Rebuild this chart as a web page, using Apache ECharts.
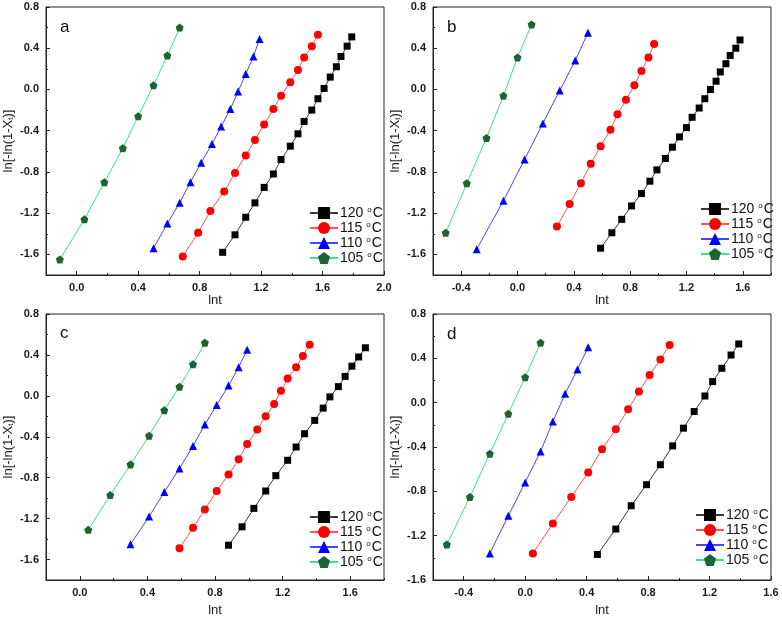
<!DOCTYPE html>
<html>
<head>
<meta charset="utf-8">
<script src="https://cdn.jsdelivr.net/npm/echarts@6/dist/echarts.min.js"></script>
<style>html,body{margin:0;padding:0;background:#fff;}#c{width:782px;height:620px;}</style>
</head>
<body>
<div id="c"></div>
<script>
// ---------- data ----------
const seriesNames = ['120', '115', '110', '105'];
const panelLetters = ['a', 'b', 'c', 'd'];

// panel a
const a120x = [0.95, 1.03, 1.10, 1.16, 1.22, 1.28, 1.33, 1.39, 1.44, 1.48, 1.53, 1.57, 1.61, 1.65, 1.69, 1.72, 1.76, 1.79];
const a120y = [-1.58, -1.41, -1.24, -1.10, -0.95, -0.82, -0.68, -0.55, -0.43, -0.31, -0.20, -0.09, 0.01, 0.12, 0.22, 0.32, 0.42, 0.51];
const a115x = [0.69, 0.79, 0.87, 0.96, 1.03, 1.10, 1.16, 1.22, 1.28, 1.33, 1.39, 1.44, 1.48, 1.53, 1.57];
const a115y = [-1.62, -1.39, -1.18, -0.99, -0.81, -0.64, -0.49, -0.34, -0.19, -0.06, 0.07, 0.19, 0.31, 0.42, 0.53];
const a110x = [0.50, 0.59, 0.67, 0.74, 0.81, 0.88, 0.94, 1.00, 1.05, 1.10, 1.15, 1.19];
const a110y = [-1.54, -1.30, -1.10, -0.90, -0.71, -0.53, -0.36, -0.19, -0.02, 0.15, 0.32, 0.49];
const a105x = [-0.11, 0.05, 0.18, 0.30, 0.40, 0.50, 0.59, 0.67];
const a105y = [-1.65, -1.26, -0.90, -0.57, -0.26, 0.04, 0.33, 0.60];

// panel b
const b120x = [0.59, 0.67, 0.74, 0.81, 0.88, 0.94, 0.99, 1.05, 1.10, 1.15, 1.20, 1.24, 1.29, 1.33, 1.37, 1.41, 1.44, 1.48, 1.51, 1.55, 1.58];
const b120y = [-1.54, -1.39, -1.26, -1.13, -1.01, -0.89, -0.78, -0.67, -0.56, -0.46, -0.37, -0.27, -0.18, -0.09, 0.00, 0.08, 0.17, 0.25, 0.33, 0.40, 0.48];
const b115x = [0.28, 0.37, 0.45, 0.52, 0.59, 0.66, 0.71, 0.77, 0.83, 0.88, 0.93, 0.97];
const b115y = [-1.33, -1.11, -0.91, -0.72, -0.55, -0.39, -0.24, -0.10, 0.04, 0.18, 0.31, 0.44];
const b110x = [-0.29, -0.10, 0.05, 0.18, 0.30, 0.41, 0.50];
const b110y = [-1.55, -1.08, -0.68, -0.33, -0.01, 0.28, 0.55];
const b105x = [-0.51, -0.36, -0.22, -0.10, 0.00, 0.10];
const b105y = [-1.39, -0.91, -0.47, -0.06, 0.31, 0.63];

// panel c
const c120x = [0.88, 0.96, 1.03, 1.10, 1.16, 1.23, 1.28, 1.33, 1.39, 1.44, 1.48, 1.53, 1.57, 1.61, 1.65, 1.69];
const c120y = [-1.46, -1.28, -1.10, -0.93, -0.78, -0.63, -0.50, -0.37, -0.24, -0.12, -0.01, 0.09, 0.19, 0.29, 0.38, 0.47];
const c115x = [0.59, 0.67, 0.74, 0.81, 0.88, 0.94, 0.99, 1.05, 1.10, 1.15, 1.19, 1.23, 1.28, 1.32, 1.36];
const c115y = [-1.49, -1.29, -1.11, -0.93, -0.77, -0.62, -0.47, -0.33, -0.20, -0.08, 0.05, 0.17, 0.28, 0.39, 0.50];
const c110x = [0.30, 0.41, 0.50, 0.59, 0.67, 0.74, 0.81, 0.88, 0.94, 0.99];
const c110y = [-1.45, -1.18, -0.94, -0.71, -0.49, -0.28, -0.09, 0.10, 0.28, 0.45];
const c105x = [0.05, 0.18, 0.30, 0.41, 0.50, 0.59, 0.67, 0.74];
const c105y = [-1.31, -0.97, -0.67, -0.39, -0.14, 0.09, 0.31, 0.52];

// panel d
const d120x = [0.47, 0.59, 0.69, 0.79, 0.88, 0.96, 1.03, 1.10, 1.17, 1.22, 1.28, 1.34, 1.39];
const d120y = [-1.37, -1.14, -0.93, -0.74, -0.56, -0.39, -0.23, -0.08, 0.06, 0.19, 0.31, 0.43, 0.53];
const d115x = [0.05, 0.18, 0.30, 0.41, 0.50, 0.59, 0.67, 0.74, 0.81, 0.88, 0.94];
const d115y = [-1.36, -1.09, -0.85, -0.63, -0.42, -0.24, -0.06, 0.10, 0.25, 0.39, 0.52];
const d110x = [-0.23, -0.11, 0.00, 0.10, 0.18, 0.26, 0.34, 0.41];
const d110y = [-1.36, -1.02, -0.72, -0.44, -0.17, 0.08, 0.30, 0.50];
const d105x = [-0.51, -0.36, -0.23, -0.11, 0.00, 0.10];
const d105y = [-1.28, -0.85, -0.46, -0.10, 0.23, 0.54];

// axis ranges and tick labels
const xMin = [-0.2, -0.6, -0.2, -0.6];
const xMax = [2.0, 1.8, 1.8, 1.6];
const yMin = [-1.8, -1.8, -1.8, -1.6];
const yMax = [0.8, 0.8, 0.8, 0.8];
const xMajor = [
  [0.0, 0.4, 0.8, 1.2, 1.6, 2.0],
  [-0.4, 0.0, 0.4, 0.8, 1.2, 1.6],
  [0.0, 0.4, 0.8, 1.2, 1.6],
  [-0.4, 0.0, 0.4, 0.8, 1.2, 1.6]
];
const xMinor = [
  [-0.2, 0.2, 0.6, 1.0, 1.4, 1.8],
  [-0.6, -0.2, 0.2, 0.6, 1.0, 1.4, 1.8],
  [-0.2, 0.2, 0.6, 1.0, 1.4, 1.8],
  [-0.6, -0.2, 0.2, 0.6, 1.0, 1.4]
];
const yMajorA = [-1.6, -1.2, -0.8, -0.4, 0.0, 0.4, 0.8];
const yMinorA = [-1.8, -1.4, -1.0, -0.6, -0.2, 0.2, 0.6];
const yMajorD = [-1.6, -1.2, -0.8, -0.4, 0.0, 0.4, 0.8];
const yMinorD = [-1.4, -1.0, -0.6, -0.2, 0.2, 0.6];

const panelData = [
  [[a120x, a120y], [a115x, a115y], [a110x, a110y], [a105x, a105y]],
  [[b120x, b120y], [b115x, b115y], [b110x, b110y], [b105x, b105y]],
  [[c120x, c120y], [c115x, c115y], [c110x, c110y], [c105x, c105y]],
  [[d120x, d120y], [d115x, d115y], [d110x, d110y], [d105x, d105y]]
];

// ---------- styling / layout ----------
const FONT = '"Liberation Sans", Arial, sans-serif';
const pentagon = 'path://M50,0 L97.55,34.55 L79.39,90.45 L20.61,90.45 L2.45,34.55 Z';
const symStyle = [
  { symbol: 'rect', size: 7, line: '#3a3a3a', fill: '#000000' },
  { symbol: 'circle', size: 8, line: '#ff5555', fill: '#ff0000' },
  { symbol: 'triangle', size: 8, line: '#4646ff', fill: '#0000ff' },
  { symbol: pentagon, size: 8, line: '#3fe08a', fill: '#1b6436' }
];
const grids = [
  { left: 46, top: 7, width: 338, height: 268 },
  { left: 433, top: 7, width: 338, height: 268 },
  { left: 46, top: 314, width: 338, height: 266 },
  { left: 433, top: 314, width: 338, height: 266 }
];
const xNameGap = [17, 17, 24, 24];
const legendPos = [
  { left: 304, top: 201 },
  { left: 695, top: 197 },
  { left: 304, top: 505 },
  { left: 690, top: 503 }
];
const letterPos = [
  { left: 55, top: 14 },
  { left: 442, top: 14 },
  { left: 55, top: 320 },
  { left: 442, top: 321 }
];

const fmt = v => (Math.abs(v) < 1e-9 ? 0 : v).toFixed(1);
const labelStyle = { fontSize: 11, color: '#1a1a1a', fontFamily: FONT, fontWeight: 'bold' };

const xAxes = [], yAxes = [], series = [], legends = [], titles = [];
for (let i = 0; i < 4; i++) {
  const yMaj = i === 3 ? yMajorD : yMajorA;
  const yMin2 = i === 3 ? yMinorD : yMinorA;
  xAxes.push({
    type: 'value', gridIndex: i, min: xMin[i], max: xMax[i], position: 'bottom',
    axisLine: { show: true, onZero: false, lineStyle: { color: '#222', width: 1 } },
    axisTick: { show: true, inside: true, length: 4, customValues: xMajor[i], lineStyle: { color: '#222' } },
    axisLabel: { show: true, customValues: xMajor[i], formatter: fmt, margin: 7, ...labelStyle },
    splitLine: { show: false },
    name: 'lnt', nameLocation: 'middle', nameGap: xNameGap[i],
    nameTextStyle: { fontSize: 13, color: '#1a1a1a', fontFamily: FONT }
  });
  xAxes.push({
    type: 'value', gridIndex: i, min: xMin[i], max: xMax[i], position: 'bottom',
    axisLine: { show: false, onZero: false },
    axisTick: { show: true, inside: true, length: 2, customValues: xMinor[i], lineStyle: { color: '#222' } },
    axisLabel: { show: false }, splitLine: { show: false }
  });
  yAxes.push({
    type: 'value', gridIndex: i, min: yMin[i], max: yMax[i], position: 'left',
    axisLine: { show: true, onZero: false, lineStyle: { color: '#222', width: 1 } },
    axisTick: { show: true, inside: true, length: 4, customValues: yMaj, lineStyle: { color: '#222' } },
    axisLabel: { show: true, customValues: yMaj, formatter: fmt, margin: 7, ...labelStyle },
    splitLine: { show: false },
    name: 'ln[-ln(1-X{sub|t})]', nameLocation: 'middle', nameGap: 31,
    nameTextStyle: {
      fontSize: 13, color: '#1a1a1a', fontFamily: FONT,
      rich: { sub: { fontSize: 8, fontFamily: FONT, color: '#1a1a1a', verticalAlign: 'bottom' } }
    }
  });
  yAxes.push({
    type: 'value', gridIndex: i, min: yMin[i], max: yMax[i], position: 'left',
    axisLine: { show: false, onZero: false },
    axisTick: { show: true, inside: true, length: 2, customValues: yMin2, lineStyle: { color: '#222' } },
    axisLabel: { show: false }, splitLine: { show: false }
  });
  panelData[i].forEach((pair, k) => {
    const st = symStyle[k];
    series.push({
      type: 'line', name: seriesNames[k],
      xAxisIndex: i * 2, yAxisIndex: i * 2,
      data: pair[0].map((x, j) => [x, pair[1][j]]),
      symbol: st.symbol, symbolSize: st.size,
      showAllSymbol: true, animation: false,
      lineStyle: { color: st.line, width: 1 },
      itemStyle: { color: st.fill, borderWidth: 0 },
      z: 3 + k
    });
  });
  legends.push({
    data: seriesNames, orient: 'vertical',
    left: legendPos[i].left, top: legendPos[i].top,
    itemWidth: 28, itemHeight: 15, itemGap: 1,
    formatter: n => n + ' {sup|o}C',
    textStyle: {
      fontSize: 14, color: '#111', fontFamily: FONT, padding: [0, 0, 0, -3],
      rich: { sup: { fontSize: 8, fontFamily: FONT, color: '#111', verticalAlign: 'top', padding: [0, 1, 6, 0] } }
    },
    selectedMode: false
  });
  titles.push({
    text: panelLetters[i], left: letterPos[i].left, top: letterPos[i].top,
    textStyle: { fontSize: 17, fontWeight: 'normal', color: '#111', fontFamily: FONT }
  });
}

const chart = echarts.init(document.getElementById('c'), null, { renderer: 'canvas' });
chart.setOption({
  backgroundColor: '#fff',
  animation: false,
  title: titles,
  grid: grids.map(g => ({ ...g, show: true, borderColor: '#222', borderWidth: 1, backgroundColor: 'transparent' })),
  xAxis: xAxes,
  yAxis: yAxes,
  legend: legends,
  series: series
});
</script>
</body>
</html>
